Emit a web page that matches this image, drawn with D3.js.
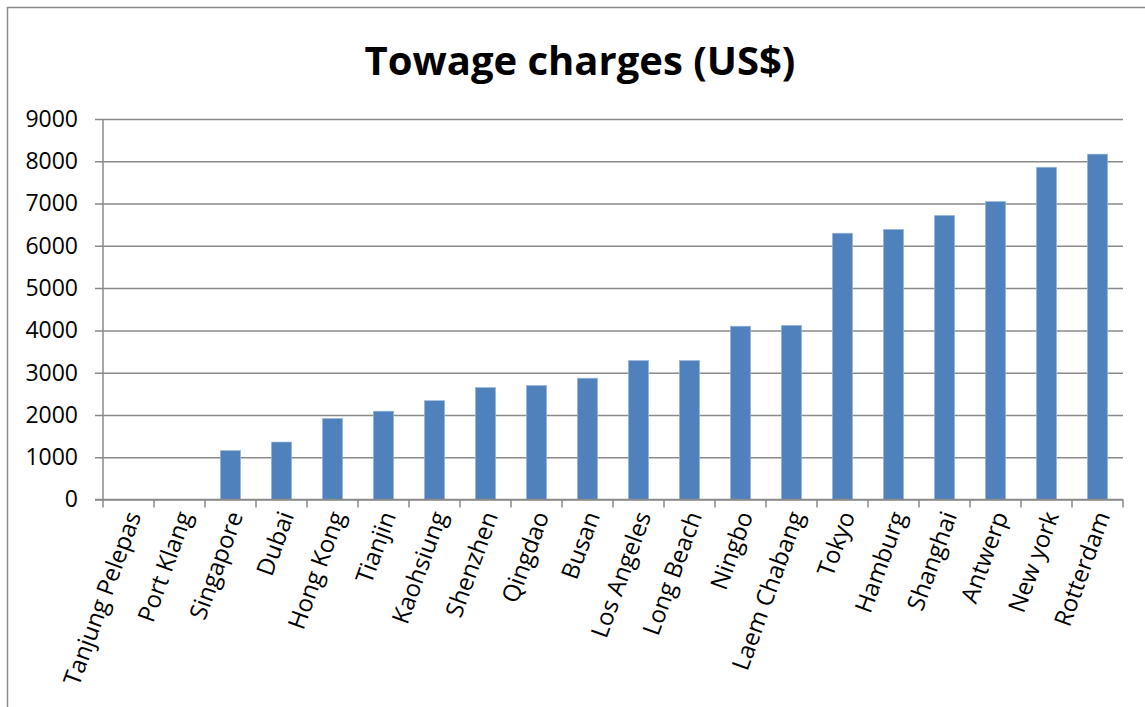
<!DOCTYPE html>
<html>
<head>
<meta charset="utf-8">
<script src="https://cdn.jsdelivr.net/npm/d3@7"></script>
<style>
  html, body { margin: 0; padding: 0; background: #fff; }
  svg { display: block; }
</style>
</head>
<body>
<svg id="chart" width="1145" height="707"></svg>
<script>
const title = "Towage charges (US$)";
const categories = ["Tanjung Pelepas", "Port Klang", "Singapore", "Dubai", "Hong Kong", "Tianjin", "Kaohsiung", "Shenzhen", "Qingdao", "Busan", "Los Angeles", "Long Beach", "Ningbo", "Laem Chabang", "Tokyo", "Hamburg", "Shanghai", "Antwerp", "New york", "Rotterdam"];
const values = [0, 0, 1160, 1360, 1920, 2090, 2340, 2650, 2700, 2870, 3290, 3290, 4100, 4120, 6300, 6390, 6720, 7050, 7860, 8170];
const yTicks = [0, 1000, 2000, 3000, 4000, 5000, 6000, 7000, 8000, 9000];

const svg = d3.select("#chart");
const font = "'Open Sans', Calibri, sans-serif";
const gridColor = "#8a8a8a";

// outer chart border
svg.append("rect")
  .attr("x", 7.5).attr("y", 7.5)
  .attr("width", 1160).attr("height", 720)
  .attr("fill", "#fff")
  .attr("stroke", "#8a8a8a").attr("stroke-width", 1.5);

const plot = { left: 103, right: 1123, top: 119, bottom: 499.5 };

const x = d3.scaleBand()
  .domain(categories)
  .range([plot.left, plot.right])
  .paddingInner(0.6)
  .paddingOuter(0.3);

const y = d3.scaleLinear()
  .domain([0, 9000])
  .range([plot.bottom, plot.top]);

// title
svg.append("text")
  .attr("x", 580).attr("y", 75)
  .attr("text-anchor", "middle")
  .attr("font-family", font)
  .attr("font-weight", "bold")
  .attr("font-size", 40)
  .attr("fill", "#000")
  .text(title);

// gridlines + y axis
const yAxis = d3.axisLeft(y)
  .tickValues(yTicks)
  .tickSize(plot.right - plot.left + 8)
  .tickPadding(17)
  .tickFormat(d3.format("d"));

const gy = svg.append("g")
  .attr("transform", `translate(${plot.right},0)`)
  .call(yAxis);
gy.select(".domain").remove();
gy.selectAll(".tick line")
  .attr("stroke", gridColor)
  .attr("stroke-width", 1.5);
gy.selectAll(".tick text")
  .attr("font-family", font)
  .attr("font-size", 23)
  .attr("fill", "#000");

// vertical axis line
svg.append("line")
  .attr("x1", plot.left).attr("x2", plot.left)
  .attr("y1", plot.top).attr("y2", plot.bottom)
  .attr("stroke", gridColor).attr("stroke-width", 1.5);

// bars
svg.append("g")
  .selectAll("rect")
  .data(values)
  .join("rect")
  .attr("x", (d, i) => x(categories[i]))
  .attr("width", x.bandwidth())
  .attr("y", d => y(d))
  .attr("height", d => y(0) - y(d))
  .attr("fill", "#4f81bd")
  .attr("stroke", "#a9c1e0")
  .attr("stroke-width", 0.6);

// x axis
const step = x.step();
const tickPositions = d3.range(categories.length + 1).map(i => plot.left + i * step);
const gx = svg.append("g");
gx.append("line")
  .attr("x1", plot.left - 8).attr("x2", plot.right)
  .attr("y1", plot.bottom).attr("y2", plot.bottom)
  .attr("stroke", gridColor).attr("stroke-width", 1.5);
gx.selectAll("line.tk")
  .data(tickPositions)
  .join("line")
  .attr("class", "tk")
  .attr("x1", d => d).attr("x2", d => d)
  .attr("y1", plot.bottom).attr("y2", plot.bottom + 8)
  .attr("stroke", gridColor).attr("stroke-width", 1.5);

gx.selectAll("text")
  .data(categories)
  .join("text")
  .attr("transform", d => `translate(${x(d) + x.bandwidth() / 2 + 5},${plot.bottom + 13}) rotate(-70)`)
  .attr("text-anchor", "end")
  .attr("dy", "0.35em")
  .attr("font-family", font)
  .attr("font-size", 24)
  .attr("fill", "#000")
  .text(d => d);
</script>
</body>
</html>
